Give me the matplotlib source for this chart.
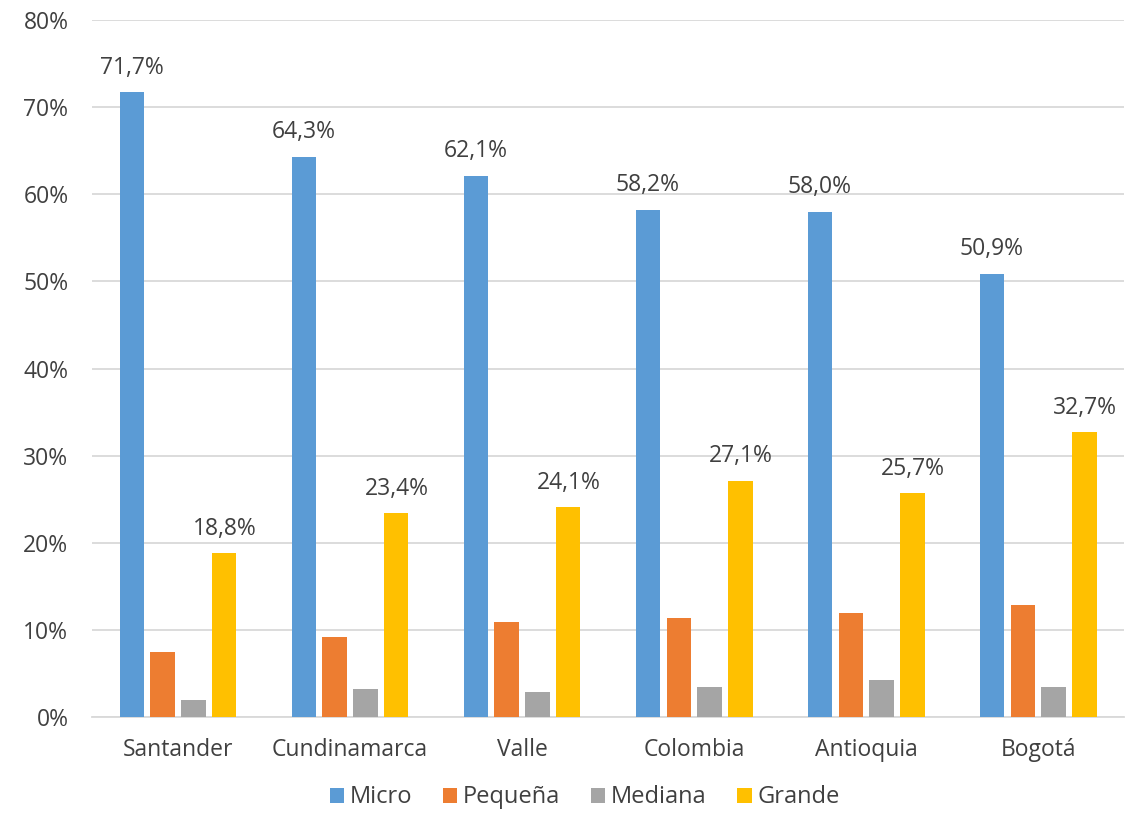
import matplotlib
matplotlib.use("Agg")
import matplotlib.pyplot as plt
import numpy as np
from matplotlib.ticker import FuncFormatter

categories = ["Santander", "Cundinamarca", "Valle", "Colombia", "Antioquia", "Bogotá"]
micro = [71.7, 64.3, 62.1, 58.2, 58.0, 50.9]
pequena = [7.5, 9.2, 10.9, 11.4, 11.9, 12.9]
mediana = [2.0, 3.2, 2.9, 3.4, 4.3, 3.5]
grande = [18.8, 23.4, 24.1, 27.1, 25.7, 32.7]
series_names = ["Micro", "Pequeña", "Mediana", "Grande"]
colors = ["#5B9BD5", "#ED7D31", "#A5A5A5", "#FFC000"]
labeled = [True, False, False, True]

plt.rcParams['font.family'] = ['Open Sans', 'DejaVu Sans']
fig = plt.figure(figsize=(11.4, 8.16), dpi=100)
ax = fig.add_axes([0.0807, 0.1213, 0.9053, 0.8542])

x = np.arange(len(categories))
width = 0.14
step = 0.18
data = [micro, pequena, mediana, grande]
for i, (vals, name, c, lab) in enumerate(zip(data, series_names, colors, labeled)):
    pos = x + (i - 1.5) * step
    bars = ax.bar(pos, vals, width, color=c, label=name, zorder=3)
    if lab:
        for b, v in zip(bars, vals):
            ax.annotate(f"{v:.1f}%".replace(".", ","),
                        (b.get_x() + b.get_width() / 2, v),
                        xytext=(0, 9), textcoords="offset points",
                        ha="center", va="bottom", fontsize=16.5, color="#404040")

ax.set_xlim(-0.5, 5.5)
ax.set_ylim(0, 80)
ax.set_yticks(np.arange(0, 81, 10))
ax.yaxis.set_major_formatter(FuncFormatter(lambda v, p: f"{int(v)}%"))
ax.set_xticks(x)
ax.set_xticklabels(categories)
ax.tick_params(axis="both", length=0, labelsize=16.5, colors="#404040")
ax.tick_params(axis="x", pad=15)
ax.tick_params(axis="y", pad=17)
ax.grid(axis="y", color="#D9D9D9", linewidth=1.3, zorder=0)
for s in ["top", "right", "left"]:
    ax.spines[s].set_visible(False)
ax.spines["bottom"].set_color("#D9D9D9")
ax.spines["bottom"].set_linewidth(1.3)

leg = fig.legend(loc="lower center", bbox_to_anchor=(0.513, -0.018), ncol=4, frameon=False,
                 fontsize=17, handlelength=0.6, handleheight=0.6, handletextpad=0.25,
                 columnspacing=1.3)
for t in leg.get_texts():
    t.set_color("#404040")

fig.savefig("out.png", dpi=100)
